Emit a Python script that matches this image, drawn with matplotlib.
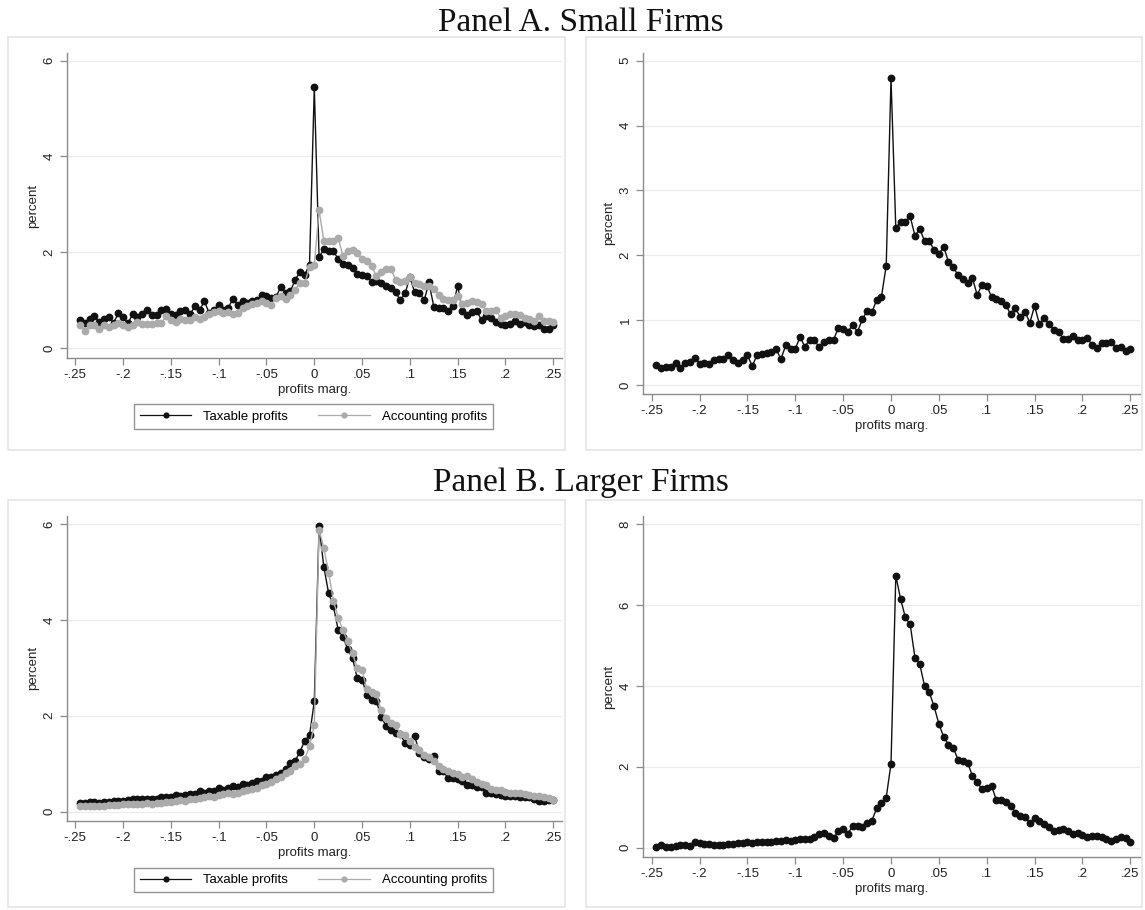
import numpy as np
import matplotlib
matplotlib.use("Agg")
import matplotlib.pyplot as plt
from matplotlib.patches import Rectangle
from matplotlib.lines import Line2D

# ---------------- data ----------------
# bin centres of profit margin (width .005), from -.245 to .25
x_bins = np.round(np.arange(-0.245, 0.2501, 0.005), 3)

# Panel A (small firms), left: taxable vs accounting profits
pa_taxable = [0.59, 0.52, 0.61, 0.66, 0.54, 0.61, 0.65, 0.52, 0.73, 0.65,
              0.52, 0.70, 0.65, 0.72, 0.80, 0.68, 0.68, 0.79, 0.82, 0.70,
              0.68, 0.77, 0.80, 0.70, 0.87, 0.79, 0.98, 0.73, 0.79, 0.89,
              0.79, 0.84, 1.03, 0.89, 0.98, 0.94, 0.98, 1.00, 1.10, 1.08,
              1.05, 1.07, 1.28, 1.15, 1.18, 1.43, 1.58, 1.53, 1.74,
              5.45,
              1.90, 2.06, 2.03, 2.02, 1.86, 1.76, 1.74, 1.67, 1.55, 1.53,
              1.50, 1.37, 1.39, 1.36, 1.30, 1.25, 1.16, 1.00, 1.14, 1.48,
              1.16, 1.15, 1.00, 1.37, 0.86, 0.84, 0.84, 0.77, 0.87, 1.30,
              0.77, 0.68, 0.75, 0.77, 0.58, 0.66, 0.63, 0.54, 0.50, 0.49,
              0.51, 0.56, 0.51, 0.54, 0.47, 0.45, 0.47, 0.40, 0.40, 0.47]
pa_accounting = [0.49, 0.35, 0.47, 0.49, 0.40, 0.47, 0.44, 0.49, 0.52, 0.49,
                 0.44, 0.47, 0.54, 0.51, 0.51, 0.51, 0.52, 0.52, 0.66, 0.59,
                 0.54, 0.61, 0.59, 0.59, 0.65, 0.61, 0.65, 0.70, 0.75, 0.77,
                 0.73, 0.75, 0.70, 0.73, 0.84, 0.87, 0.91, 0.93, 0.98, 0.94,
                 0.89, 1.05, 1.08, 1.02, 1.11, 1.22, 1.36, 1.36, 1.69,
                 1.74,
                 2.88, 2.23, 2.23, 2.23, 2.30, 1.92, 2.02, 2.04, 1.99, 1.86,
                 1.81, 1.71, 1.50, 1.58, 1.65, 1.65, 1.43, 1.37, 1.39, 1.48,
                 1.36, 1.34, 1.29, 1.29, 1.23, 1.11, 1.02, 1.00, 1.01, 1.08,
                 0.91, 0.94, 0.98, 0.95, 0.91, 0.77, 0.77, 0.80, 0.63, 0.66,
                 0.70, 0.70, 0.68, 0.63, 0.61, 0.56, 0.66, 0.56, 0.56, 0.54]
# Panel A, right
pa_right = [0.31, 0.26, 0.27, 0.28, 0.34, 0.26, 0.34, 0.36, 0.42, 0.33,
            0.34, 0.32, 0.38, 0.40, 0.40, 0.46, 0.38, 0.34, 0.38, 0.46,
            0.29, 0.46, 0.47, 0.50, 0.51, 0.55, 0.40, 0.61, 0.56, 0.56,
            0.74, 0.59, 0.70, 0.69, 0.58, 0.66, 0.69, 0.70, 0.88, 0.87,
            0.82, 0.93, 0.82, 1.01, 1.14, 1.12, 1.31, 1.36, 1.84,
            4.73,
            2.42, 2.52, 2.52, 2.60, 2.30, 2.41, 2.22, 2.22, 2.08, 2.02,
            2.13, 1.90, 1.82, 1.69, 1.63, 1.57, 1.65, 1.39, 1.54, 1.53,
            1.36, 1.32, 1.29, 1.23, 1.09, 1.18, 1.05, 1.13, 0.96, 1.22,
            0.94, 1.03, 0.94, 0.85, 0.82, 0.71, 0.71, 0.76, 0.69, 0.69,
            0.72, 0.62, 0.57, 0.64, 0.65, 0.67, 0.57, 0.59, 0.53, 0.55]
# Panel B (larger firms), left
pb_taxable = [0.19, 0.19, 0.20, 0.21, 0.19, 0.20, 0.21, 0.23, 0.23, 0.23,
              0.24, 0.27, 0.26, 0.27, 0.26, 0.27, 0.27, 0.30, 0.31, 0.30,
              0.34, 0.33, 0.35, 0.37, 0.37, 0.43, 0.40, 0.43, 0.44, 0.49,
              0.45, 0.49, 0.54, 0.51, 0.58, 0.55, 0.59, 0.63, 0.65, 0.72,
              0.73, 0.77, 0.80, 0.88, 1.01, 1.06, 1.25, 1.48, 1.59,
              2.30,
              5.95, 5.10, 4.56, 4.28, 3.79, 3.64, 3.39, 3.20, 2.78, 2.75,
              2.44, 2.33, 2.30, 1.98, 1.79, 1.70, 1.65, 1.62, 1.43, 1.39,
              1.58, 1.22, 1.15, 1.09, 1.16, 0.84, 0.84, 0.70, 0.70, 0.68,
              0.63, 0.56, 0.56, 0.51, 0.52, 0.40, 0.38, 0.37, 0.35, 0.33,
              0.33, 0.33, 0.31, 0.30, 0.30, 0.26, 0.23, 0.23, 0.24, 0.24]
pb_accounting = [0.12, 0.11, 0.12, 0.11, 0.12, 0.12, 0.13, 0.14, 0.13, 0.15,
                 0.15, 0.16, 0.15, 0.17, 0.18, 0.17, 0.19, 0.19, 0.20, 0.21,
                 0.22, 0.24, 0.23, 0.26, 0.27, 0.28, 0.30, 0.32, 0.31, 0.34,
                 0.36, 0.38, 0.37, 0.40, 0.43, 0.45, 0.48, 0.50, 0.55, 0.58,
                 0.62, 0.68, 0.72, 0.80, 0.85, 0.95, 1.00, 1.10, 1.36,
                 1.81,
                 5.88, 5.50, 4.98, 4.40, 4.05, 3.78, 3.55, 3.30, 3.00, 2.96,
                 2.55, 2.50, 2.45, 2.12, 1.95, 1.85, 1.80, 1.62, 1.60, 1.48,
                 1.35, 1.28, 1.18, 1.15, 1.05, 0.95, 0.90, 0.85, 0.80, 0.78,
                 0.72, 0.75, 0.68, 0.62, 0.58, 0.55, 0.48, 0.45, 0.45, 0.42,
                 0.40, 0.40, 0.38, 0.36, 0.35, 0.32, 0.33, 0.30, 0.28, 0.25]
# Panel B, right
pb_right = [0.01, 0.07, 0.02, 0.01, 0.04, 0.06, 0.07, 0.04, 0.14, 0.11,
            0.09, 0.09, 0.07, 0.07, 0.07, 0.09, 0.09, 0.11, 0.12, 0.14,
            0.12, 0.14, 0.13, 0.15, 0.14, 0.16, 0.16, 0.19, 0.16, 0.19,
            0.21, 0.21, 0.21, 0.26, 0.34, 0.37, 0.29, 0.24, 0.41, 0.47,
            0.35, 0.54, 0.54, 0.52, 0.62, 0.67, 0.97, 1.10, 1.24,
            2.08,
            6.72, 6.15, 5.69, 5.52, 4.70, 4.54, 4.00, 3.84, 3.49, 3.06,
            2.74, 2.55, 2.47, 2.18, 2.14, 2.10, 1.78, 1.63, 1.44, 1.48,
            1.53, 1.18, 1.18, 1.12, 1.04, 0.87, 0.78, 0.77, 0.60, 0.73,
            0.67, 0.59, 0.50, 0.42, 0.44, 0.46, 0.41, 0.33, 0.37, 0.31,
            0.27, 0.30, 0.30, 0.27, 0.21, 0.17, 0.21, 0.27, 0.23, 0.14]

x_ticks = [-0.25, -0.2, -0.15, -0.1, -0.05, 0, 0.05, 0.1, 0.15, 0.2, 0.25]
x_ticklabels = ["-.25", "-.2", "-.15", "-.1", "-.05", "0", ".05", ".1", ".15", ".2", ".25"]
series_labels = ["Taxable profits", "Accounting profits"]
panel_titles = ["Panel A. Small Firms", "Panel B. Larger Firms"]

# ---------------- layout ----------------
W, H = 1145, 910
fig = plt.figure(figsize=(W / 100, H / 100), dpi=100)
fig.patch.set_facecolor("white")
plt.rcParams["font.family"] = ["Liberation Sans", "DejaVu Sans"]

BLACK = "#111111"
GRAY = "#ababab"
AXC = "#8a8a8a"
FS = 9.5


def px_axes(l, t, r, b):
    ax = fig.add_axes([l / W, 1 - b / H, (r - l) / W, (b - t) / H])
    ax.set_zorder(5)
    return ax


def box(l, t, r, b):
    fig.patches.append(Rectangle((l / W, 1 - b / H), (r - l) / W, (b - t) / H,
                                 transform=fig.transFigure, facecolor="white",
                                 edgecolor="#e1e5ea", linewidth=1.2, zorder=-1))


box(8, 37, 565, 450)
box(586, 37, 1142, 450)
box(8, 500, 565, 907)
box(586, 500, 1142, 907)

fig.text(581 / W, 1 - 31 / H, panel_titles[0], family="Liberation Serif",
         fontsize=24, ha="center", va="baseline", color="#111111")
fig.text(581 / W, 1 - 491 / H, panel_titles[1], family="Liberation Serif",
         fontsize=24, ha="center", va="baseline", color="#111111")


def style(ax, xlim, ylim, yticks):
    ax.set_xlim(*xlim)
    ax.set_ylim(*ylim)
    ax.set_xticks(x_ticks)
    ax.set_xticklabels(x_ticklabels)
    ax.set_yticks(yticks)
    ax.set_yticklabels([str(v) for v in yticks], rotation=90, va="center")
    for s in ["top", "right"]:
        ax.spines[s].set_visible(False)
    for s in ["left", "bottom"]:
        ax.spines[s].set_color(AXC)
        ax.spines[s].set_linewidth(1.0)
    ax.tick_params(axis="both", colors=AXC, length=5, width=0.9,
                   labelsize=FS, labelcolor="#222222", pad=3)
    ax.yaxis.grid(True, color="#ececec", linewidth=0.9)
    ax.set_axisbelow(True)
    ax.set_facecolor("none")
    ax.set_xlabel("profits marg.", fontsize=FS, color="#222222", labelpad=2)
    ax.set_ylabel("percent", fontsize=FS, color="#222222", labelpad=3)


def plot_series(ax, y, color, z):
    ax.plot(x_bins, y, color=color, linewidth=1.0, marker="o", markersize=4.6,
            markerfacecolor=color, markeredgecolor=color, zorder=z)


# Panel A left
ax1 = px_axes(66.7, 53, 561.7, 358)
plot_series(ax1, pa_taxable, BLACK, 3)
plot_series(ax1, pa_accounting, GRAY, 4)
style(ax1, (-0.259, 0.2588), (-0.209, 6.16), [0, 2, 4, 6])

# Panel A right
ax2 = px_axes(642.7, 52.7, 1140, 394)
plot_series(ax2, pa_right, BLACK, 3)
style(ax2, (-0.2594, 0.2601), (-0.139, 5.123), [0, 1, 2, 3, 4, 5])

# Panel B left
ax3 = px_axes(66.7, 516, 561.7, 820.7)
plot_series(ax3, pb_taxable, BLACK, 3)
plot_series(ax3, pb_accounting, GRAY, 4)
style(ax3, (-0.259, 0.2588), (-0.188, 6.167), [0, 2, 4, 6])

# Panel B right
ax4 = px_axes(642.7, 516, 1140, 857.3)
plot_series(ax4, pb_right, BLACK, 3)
style(ax4, (-0.2594, 0.2601), (-0.237, 8.198), [0, 2, 4, 6, 8])

# legends
handles = [Line2D([], [], color=BLACK, linewidth=0.9, marker="o", markersize=4.3),
           Line2D([], [], color=GRAY, linewidth=0.9, marker="o", markersize=4.3)]
for yc in (416.5, 880):
    leg = fig.legend(handles, series_labels, loc="center",
                     bbox_to_anchor=(313.5 / W, 1 - yc / H), ncol=2,
                     fontsize=FS, frameon=True, fancybox=False,
                     handlelength=3.9, handletextpad=0.9, columnspacing=2.3,
                     borderpad=0.45, markerscale=0.8)
    leg.get_frame().set_edgecolor("#7a7a7a")
    leg.get_frame().set_linewidth(1.0)
    leg.set_zorder(6)

fig.savefig("out.png", dpi=100, facecolor="white")
